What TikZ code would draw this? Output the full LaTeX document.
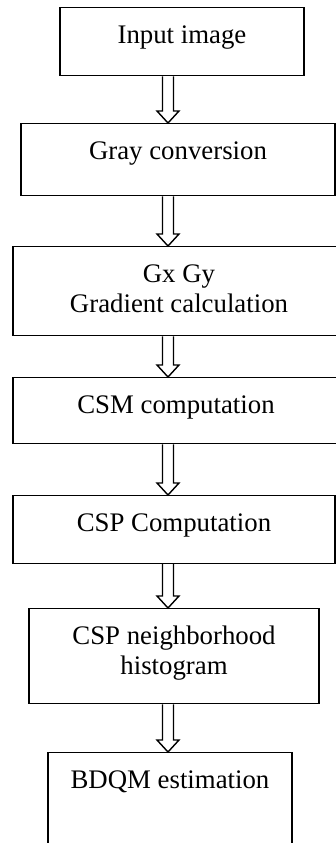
\documentclass[tikz,border=0pt]{standalone}
\usepackage{fontspec}
\setmainfont{Liberation Serif}
\usepackage{tikz}
\usetikzlibrary{calc,positioning}

\tikzset{
  stage/.style={draw,line width=0.7pt,anchor=north,align=center,inner xsep=0pt,inner ysep=0pt,
    font=\fontsize{13.4pt}{15pt}\selectfont,text height=18pt},
  hollow/.style={line width=0.7pt,to path={let \p1=(\tikztostart), \p2=(\tikztotarget) in
    (\x1-2.75pt,\y1) -- (\x1-2.75pt,\y2+6pt) -- (\x1-5.5pt,\y2+6pt) -- (\x2,\y2)
    -- (\x1+5.5pt,\y2+6pt) -- (\x1+2.75pt,\y2+6pt) -- (\x1+2.75pt,\y1)}}
}

\begin{document}
\begin{tikzpicture}[x=0.5pt,y=-0.5pt]
    \useasboundingbox (0,0) rectangle (336,843);
    \node[stage,minimum width=122pt,text depth=16pt] (input) at (182,7) {Input image};
    \node[stage,minimum width=157pt,text depth=18pt] (gray) at (178,123) {Gray conversion};
    \node[stage,minimum width=166pt,text height=33pt,text depth=11.5pt] (grad) at (179,246) {Gx Gy\\Gradient calculation};
    \node[stage,minimum width=163pt,text depth=15pt] (csm) at (176,377) {CSM computation};
    \node[stage,minimum width=161pt,text depth=15.75pt] (csp) at (174,495) {CSP Computation};
    \node[stage,minimum width=145pt,text height=33pt,text depth=14.5pt] (hist) at (174,608) {CSP neighborhood\\histogram};
    \node[stage,minimum width=122pt,text depth=37pt] (bdqm) at (170,752) {BDQM estimation};
    \coordinate (ax) at (168,0);
    \foreach \a/\b in {input/gray,gray/grad,grad/csm,csm/csp,csp/hist,hist/bdqm}
    {
      \draw[hollow] (\a.south -| ax) to (\b.north -| ax);
    }
  \end{tikzpicture}
\end{document}
